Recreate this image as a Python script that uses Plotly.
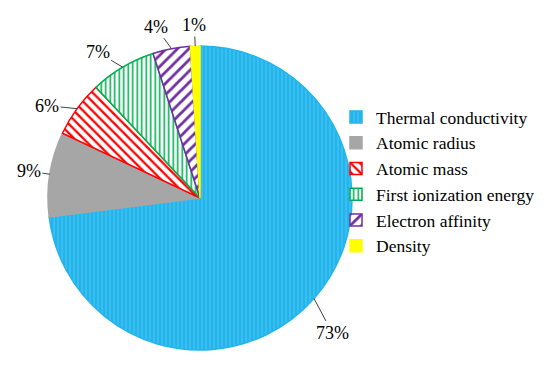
import math
import plotly.graph_objects as go

# ---- data ----
categories = ["Thermal conductivity", "Atomic radius", "Atomic mass",
              "First ionization energy", "Electron affinity", "Density"]
values = [73, 9, 6, 7, 4, 1]
value_labels = ["73%", "9%", "6%", "7%", "4%", "1%"]

# ---- styles ----
W, H = 550, 366
CX, CY, R = 200, 198, 152  # pie centre / radius in pixels
base_colors = ["#22B5EC", "#A6A6A6", "#FF0000", "#00B050", "#7030A0", "#FFFF00"]
bg_colors = ["#22B5EC", "#A6A6A6", "#FFFFFF", "#FFFFFF", "#FFFFFF", "#FFFF00"]
fg_colors = ["#55C6F2", "#A6A6A6", "#FF0000", "#00B050", "#7030A0", "#FFFF00"]
shapes = ["|", "", "\\", "|", "/", ""]
sizes = [4, 8, 6.5, 4.5, 8, 8]
solidity = [0.25, 0.3, 0.35, 0.35, 0.35, 0.3]
# label offsets (pixels) from the slice edge point
label_offsets = [(18, 34), (-21, -3), (-30, -3), (-25, -15), (-16, -22), (-1, -21)]

fig = go.Figure(go.Pie(
    labels=categories,
    values=values,
    sort=False,
    direction="clockwise",
    rotation=0,
    textinfo="none",
    hoverinfo="label+percent",
    marker=dict(
        colors=base_colors,
        line=dict(color=base_colors, width=1.5),
        pattern=dict(shape=shapes, bgcolor=bg_colors, fgcolor=fg_colors,
                     size=sizes, solidity=solidity, fillmode="replace"),
    ),
    domain=dict(x=[(CX - R) / W, (CX + R) / W],
                y=[(H - CY - R) / H, (H - CY + R) / H]),
))

total = sum(values)
cum = 0
annotations = []
for v, lab, (ax, ay) in zip(values, value_labels, label_offsets):
    mid = (cum + v / 2) / total * 2 * math.pi
    cum += v
    px = CX + R * math.sin(mid)
    py = CY - R * math.cos(mid)
    annotations.append(dict(
        x=px / W, y=(H - py) / H, xref="paper", yref="paper",
        text=lab, showarrow=True, arrowhead=0, arrowwidth=1,
        arrowcolor="#404040", ax=ax, ay=ay, standoff=0,
        font=dict(family="Liberation Serif", size=18, color="#000000"),
    ))

fig.update_layout(
    width=W, height=H,
    margin=dict(l=0, r=0, t=0, b=0),
    paper_bgcolor="white",
    plot_bgcolor="white",
    showlegend=True,
    legend=dict(x=336 / W, y=(H - 99) / H, xanchor="left", yanchor="top",
                font=dict(family="Liberation Serif", size=17.5, color="#000000"),
                bgcolor="rgba(0,0,0,0)"),
    annotations=annotations,
)

fig.write_html("out.html", config={"displayModeBar": False},
               post_script="document.body.style.margin='0';")
